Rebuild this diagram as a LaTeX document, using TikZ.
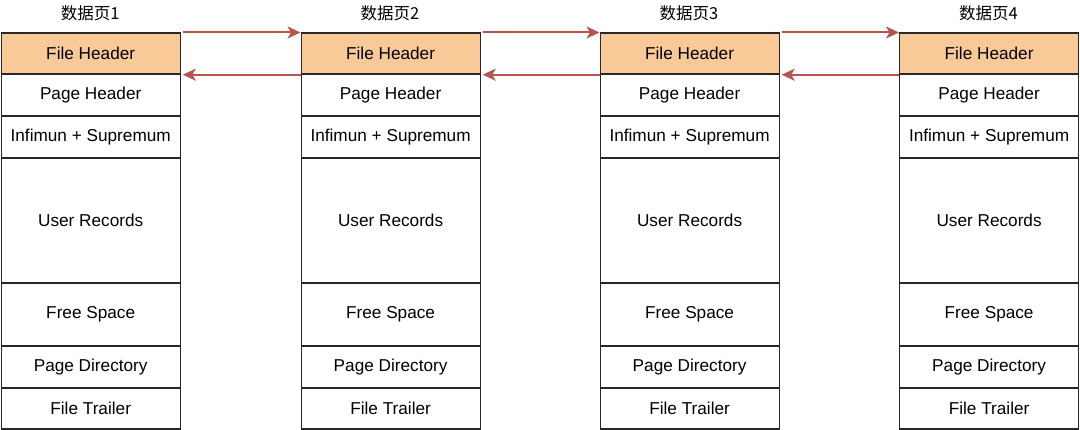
\documentclass[tikz,border=0pt]{standalone}
\usepackage{fontspec}
\setmainfont{Liberation Sans}
\newfontfamily\cjk{Noto Sans CJK SC}
\usetikzlibrary{arrows.meta}
\definecolor{fhfill}{RGB}{250,201,152}
\definecolor{arrred}{RGB}{184,84,80}
\definecolor{lineclr}{RGB}{40,40,40}
\begin{document}
\begin{tikzpicture}[x=1pt,y=-1pt,
  cell/.style={draw=lineclr, line width=1.2pt, minimum width=179pt, inner sep=0pt,
    anchor=north west, font=\fontsize{17.2}{20}\selectfont},
  hdr/.style={cell, fill=fhfill},
  ttl/.style={font=\cjk\fontsize{16.5}{19}\selectfont, inner sep=0pt},
  arr/.style={draw=arrred, line width=2pt, -{Stealth[length=13pt,width=12pt,inset=3.5pt]}}]
\useasboundingbox (0,0) rectangle (1080,430);
\foreach \c/\x in {1/0.6,2/300.5,3/599.5,4/899}{
  \node[ttl] (t\c) at (\x+89.5,13) {数据页\c};
  \node[hdr, minimum height=41pt] (fh\c) at (\x,32.5) {File Header};
  \node[cell, minimum height=42pt] (ph\c) at (\x,73.5) {Page Header};
  \node[cell, minimum height=42pt] (is\c) at (\x,115.5) {Infimun + Supremum};
  \node[cell, minimum height=125pt] (ur\c) at (\x,157.5) {User Records};
  \node[cell, minimum height=63pt] (fs\c) at (\x,282.5) {Free Space};
  \node[cell, minimum height=42pt] (pd\c) at (\x,345.5) {Page Directory};
  \node[cell, minimum height=41pt] (ft\c) at (\x,387.5) {File Trailer};
}
\foreach \a/\b in {1/2,2/3,3/4}{
  \draw[arr] ([xshift=2pt]fh\a.north east) -- (fh\b.north west);
  \draw[arr] (fh\b.south west) -- ([xshift=2pt]fh\a.south east);
}
\end{tikzpicture}
\end{document}
